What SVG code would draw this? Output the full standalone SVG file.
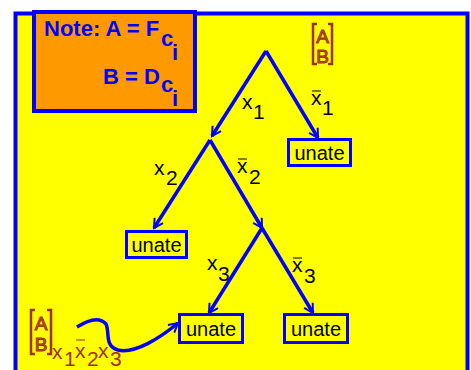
<svg xmlns="http://www.w3.org/2000/svg" width="471" height="370" viewBox="0 0 471 370">
<style>
.edge{stroke:#0000FF;stroke-width:3.5;fill:none;marker-end:url(#ah)}
.box{fill:none;stroke:#0000FF;stroke-width:3}
.lbl{font-family:"Liberation Sans",Arial,sans-serif;font-size:21px;fill:#000}
.ut{font-family:"Liberation Sans",Arial,sans-serif;font-size:20px;fill:#000}
.note{font-family:"Liberation Sans",Arial,sans-serif;font-size:22px;font-weight:bold;fill:#0000FF}
.br{font-family:"Liberation Sans",Arial,sans-serif;font-size:19px;fill:#C06030;stroke:#A0301C;stroke-width:1}
.bt{font-family:"Liberation Sans",Arial,sans-serif;font-size:21px;fill:#A0301C}
.brk{stroke:#A0301C;stroke-width:2.5;fill:none}
.bar{stroke:#000;stroke-width:1}
</style>
<defs>
<marker id="ah" viewBox="0 0 12 12" refX="10" refY="6" markerWidth="12" markerHeight="12" markerUnits="userSpaceOnUse" orient="auto">
<path d="M1,1 L10,6 L1,11 M10,6 L3,6" stroke="#0000FF" stroke-width="2" fill="none"/>
</marker>
</defs>
<rect x="0" y="0" width="471" height="370" fill="#FFFFFF"/>
<rect x="15.5" y="13.5" width="452" height="370" fill="#FFFF00" stroke="#0000FF" stroke-width="4"/>
<g id="note">
<rect x="34" y="12" width="161" height="99" fill="#FF9900" stroke="#0000FF" stroke-width="4"/>
<text class="note" x="44" y="36">Note: A = F</text>
<text class="note" x="161" y="46">c</text>
<text class="note" x="172" y="60">i</text>
<text class="note" x="103" y="84">B = D</text>
<text class="note" x="161" y="92">c</text>
<text class="note" x="172" y="106">i</text>
</g>
<g id="ab-top">
<path class="brk" d="M317,24 H313 V64 H317 M328,24 H332 V64 H328"/>
<text class="br" x="322.5" y="43" text-anchor="middle">A</text>
<text class="br" x="322.5" y="63" text-anchor="middle">B</text>
</g>
<g id="connectors">
<path class="edge" d="M266,51 L212,136"/>
<path class="edge" d="M266,51 L318,138"/>
<path class="edge" d="M210,140 L154,228"/>
<path class="edge" d="M210,140 L262,228"/>
<path class="edge" d="M262,228 L209,313"/>
<path class="edge" d="M262,228 L313,313"/>
<path class="edge" d="M77,327 C88,320 99,316 106,324 C110,332 104,346 118,350 C135,354 160,338 178,323"/>
</g>
<g id="labels">
<text class="lbl" x="242" y="109">x</text><text class="lbl" x="253" y="119">1</text>
<text class="lbl" x="311" y="105">x</text><line class="bar" x1="312" y1="91" x2="321" y2="91"/><text class="lbl" x="322" y="115">1</text>
<text class="lbl" x="154" y="175">x</text><text class="lbl" x="166" y="185">2</text>
<text class="lbl" x="237" y="173">x</text><line class="bar" x1="238" y1="159" x2="247" y2="159"/><text class="lbl" x="249" y="184">2</text>
<text class="lbl" x="207" y="270">x</text><text class="lbl" x="218" y="281">3</text>
<text class="lbl" x="292" y="272">x</text><line class="bar" x1="293" y1="258" x2="302" y2="258"/><text class="lbl" x="304" y="283">3</text>
</g>
<g id="n1"><rect class="box" x="288.5" y="139.5" width="62" height="26" fill="#FFFF00"/><text class="ut" x="319.5" y="160" text-anchor="middle">unate</text></g>
<g id="n2"><rect class="box" x="126.5" y="231.5" width="60" height="26"/><text class="ut" x="156.5" y="252" text-anchor="middle">unate</text></g>
<g id="n3"><rect class="box" x="179.5" y="314.5" width="63" height="28"/><text class="ut" x="211" y="336" text-anchor="middle">unate</text></g>
<g id="n4"><rect class="box" x="284.5" y="314.5" width="63" height="28"/><text class="ut" x="316" y="336" text-anchor="middle">unate</text></g>
<g id="ab-bottom">
<path class="brk" d="M35,310 H31 V354 H35 M47,310 H51 V354 H47"/>
<text class="br" x="41" y="330" text-anchor="middle">A</text>
<text class="br" x="41" y="351" text-anchor="middle">B</text>
<text class="bt" x="52" y="359">x</text>
<text class="bt" x="64" y="366">1</text>
<text class="bt" x="75" y="358">x</text>
<line x1="76" y1="340" x2="85" y2="340" stroke="#A0301C" stroke-width="1"/>
<text class="bt" x="87" y="366">2</text>
<text class="bt" x="98" y="358">x</text>
<text class="bt" x="110" y="366">3</text>
</g>
</svg>
